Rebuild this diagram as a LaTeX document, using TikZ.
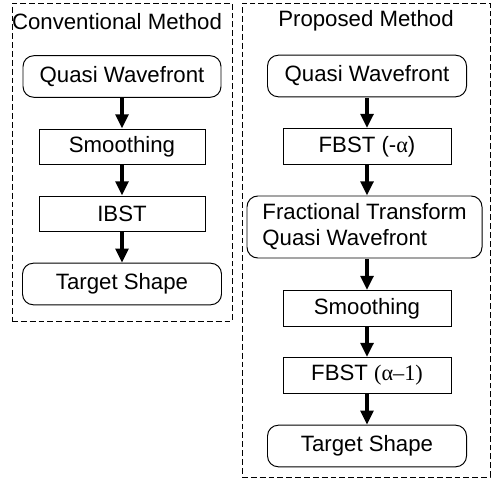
\documentclass[tikz,border=0pt]{standalone}
\usepackage{fontspec}
\setmainfont{Liberation Sans}
\newfontfamily\grkfont{Liberation Serif}
\usepackage{tikz}
\usetikzlibrary{arrows.meta}

\begin{document}
\begin{tikzpicture}[
        font=\fontsize{15.8}{18.5}\selectfont,
        every node/.style={inner sep=0pt},
        procbox/.style={draw, line width=0.7pt, minimum height=0.9cm},
        termbox/.style={draw, line width=0.7pt, rounded corners=0.27cm, minimum height=1.04cm},
        frame/.style={draw, line width=0.6pt, dash pattern=on 4.2pt off 2.1pt},
        flow/.style={line width=2.85pt, -{Triangle[length=10pt, width=9pt]}, shorten <=0.35pt}
    ]
        \useasboundingbox (0,0) rectangle (12.3,-11.975);
        % conventional method
        \node[frame, minimum width=5.5cm, minimum height=7.95cm] (CONVBOX) at (3.05,-4.05) {};
        \node (CONVTITLE) at (2.925,-0.53) {Conventional Method};
        \node[termbox, minimum width=4.95cm] (QWA) at (3.05,-1.9125) {Quasi Wavefront};
        \node[procbox, minimum width=4.15cm, minimum height=0.875cm] (SMA) at (3.05,-3.6625) {Smoothing};
        \node[procbox, minimum width=4.15cm, minimum height=0.875cm] (IBST) at (3.05,-5.3375) {IBST};
        \node[termbox, minimum width=4.975cm] (TSA) at (3.05,-7.1) {Target Shape};
        % proposed method
        \node[frame, minimum width=6.2cm, minimum height=11.85cm] (PROPBOX) at (9.15,-6.0) {};
        \node (PROPTITLE) at (9.15,-0.53) {Proposed Method};
        \node[termbox, minimum width=4.975cm] (QWB) at (9.175,-1.9) {Quasi Wavefront};
        \node[procbox, minimum width=4.2cm] (FBSTA) at (9.175,-3.6625) {FBST (-{\grkfont α})};
        \node[termbox, minimum width=5.875cm, minimum height=1.55cm, align=left] (FTQW) at (9.1125,-5.675) {Fractional Transform\\Quasi Wavefront};
        \node[procbox, minimum width=4.2cm] (SMB) at (9.175,-7.7125) {Smoothing};
        \node[procbox, minimum width=4.2cm] (FBSTB) at (9.175,-9.3875) {FBST {\grkfont (α–1)}};
        \node[termbox, minimum width=4.975cm] (TSB) at (9.175,-11.15) {Target Shape};
        \draw[flow] (QWA) -- (SMA);
        \draw[flow] (SMA) -- (IBST);
        \draw[flow] (IBST) -- (TSA);
        \draw[flow] (QWB) -- (FBSTA);
        \draw[flow] (FBSTA.south) -- (FBSTA.south |- FTQW.north);
        \draw[flow] (FTQW.south -| SMB.north) -- (SMB);
        \draw[flow] (SMB) -- (FBSTB);
        \draw[flow] (FBSTB) -- (TSB);
\end{tikzpicture}
\end{document}
